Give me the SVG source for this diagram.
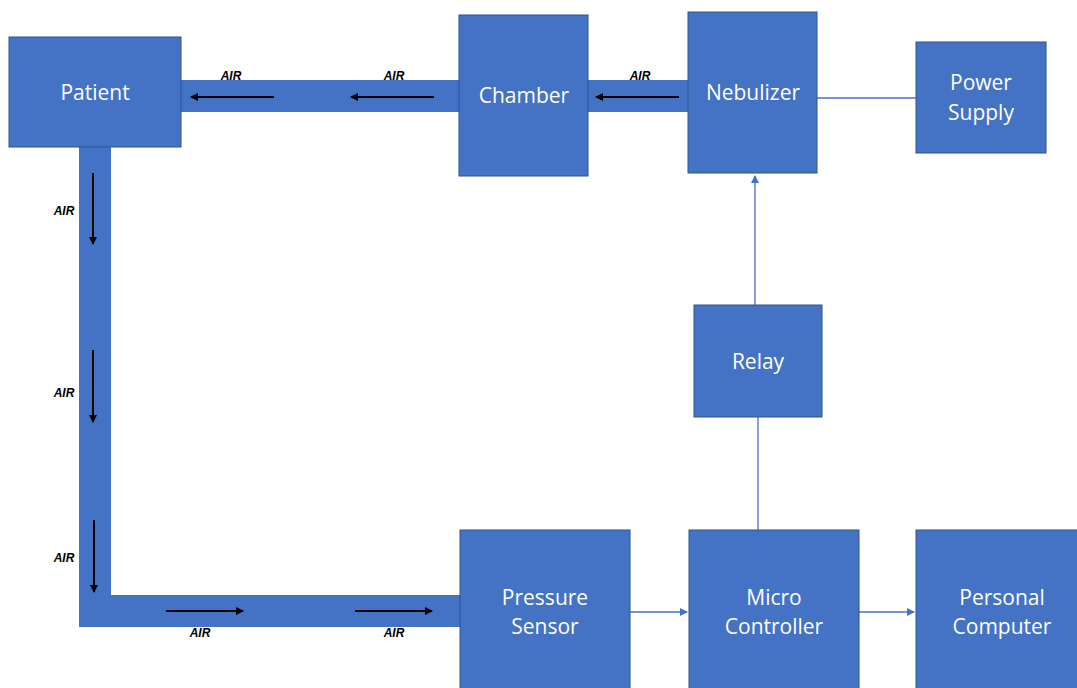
<svg xmlns="http://www.w3.org/2000/svg" width="1077" height="688" viewBox="0 0 1077 688">
<style>
.box{fill:#4472C4;stroke:#2F528F;stroke-width:1}
.pipe{fill:#4472C4}
.lbl{font-family:"Open Sans","Liberation Sans",sans-serif;font-size:21px;fill:#ffffff;text-anchor:middle}
.air{font-family:"Liberation Sans",Arial,sans-serif;font-size:12px;font-weight:bold;font-style:italic;fill:#000;text-anchor:middle}
.flow{stroke:#000;stroke-width:2;fill:none;marker-end:url(#ah)}
.conn{stroke:#4472C4;stroke-width:1.3;fill:none}
</style>
<defs>
<marker id="ah" markerWidth="10" markerHeight="8" refX="7" refY="4" orient="auto" markerUnits="userSpaceOnUse">
<path d="M0,0 L8,4 L0,8 Z" fill="#000"/>
</marker>
<marker id="bh" markerWidth="10" markerHeight="8" refX="7" refY="4" orient="auto" markerUnits="userSpaceOnUse">
<path d="M0,0 L8,4 L0,8 Z" fill="#4472C4"/>
</marker>
</defs>
<rect width="1077" height="688" fill="#ffffff"/>
<g id="pipes">
<path class="pipe" d="M170,80 H690 V112 H111 V595 H462 V627 H79 V112 H170 Z"/>
</g>
<g id="connectors">
<line class="conn" x1="817" y1="98" x2="916" y2="98"/>
<line class="conn" x1="755" y1="305" x2="755" y2="176" marker-end="url(#bh)"/>
<line class="conn" x1="758" y1="417" x2="758" y2="530"/>
<line class="conn" x1="630" y1="612" x2="687" y2="612" marker-end="url(#bh)"/>
<line class="conn" x1="859" y1="612" x2="914" y2="612" marker-end="url(#bh)"/>
<line class="flow" x1="274" y1="97" x2="191" y2="97"/>
<line class="flow" x1="434" y1="97" x2="351" y2="97"/>
<line class="flow" x1="679" y1="97" x2="596" y2="97"/>
<line class="flow" x1="93" y1="173" x2="93" y2="244"/>
<line class="flow" x1="93" y1="350" x2="93" y2="422"/>
<line class="flow" x1="94" y1="520" x2="94" y2="592"/>
<line class="flow" x1="166" y1="611" x2="243" y2="611"/>
<line class="flow" x1="355" y1="611" x2="432" y2="611"/>
<text class="air" x="231" y="80">AIR</text>
<text class="air" x="394" y="80">AIR</text>
<text class="air" x="640" y="80">AIR</text>
<text class="air" x="64" y="215">AIR</text>
<text class="air" x="64" y="397">AIR</text>
<text class="air" x="64" y="562">AIR</text>
<text class="air" x="200" y="637">AIR</text>
<text class="air" x="394" y="637">AIR</text>
</g>
<g id="patient"><rect class="box" x="9" y="37" width="172" height="110"/><text class="lbl" x="95" y="100">Patient</text></g>
<g id="chamber"><rect class="box" x="459" y="15" width="129" height="161"/><text class="lbl" x="524" y="103">Chamber</text></g>
<g id="nebulizer"><rect class="box" x="688" y="12" width="129" height="161"/><text class="lbl" x="753" y="100">Nebulizer</text></g>
<g id="power-supply"><rect class="box" x="916" y="42" width="130" height="111"/><text class="lbl" x="981" y="90">Power</text><text class="lbl" x="981" y="120">Supply</text></g>
<g id="relay"><rect class="box" x="694" y="305" width="128" height="112"/><text class="lbl" x="758" y="369">Relay</text></g>
<g id="pressure-sensor"><rect class="box" x="460" y="530" width="170" height="162"/><text class="lbl" x="545" y="605">Pressure</text><text class="lbl" x="545" y="634">Sensor</text></g>
<g id="micro-controller"><rect class="box" x="689" y="530" width="170" height="162"/><text class="lbl" x="774" y="605">Micro</text><text class="lbl" x="774" y="634">Controller</text></g>
<g id="personal-computer"><rect class="box" x="916" y="530" width="165" height="162"/><text class="lbl" x="1002" y="605">Personal</text><text class="lbl" x="1002" y="634">Computer</text></g>
</svg>
